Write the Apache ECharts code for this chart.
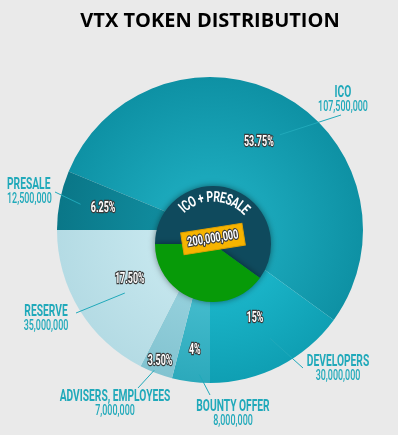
<!DOCTYPE html>
<html>
<head>
<meta charset="utf-8">
<script src="https://cdn.jsdelivr.net/npm/echarts@6/dist/echarts.min.js"></script>
<style>
html, body { margin: 0; padding: 0; background: #eaeaea; }
#main { width: 398px; height: 435px; }
</style>
</head>
<body>
<div id="main"></div>
<script>
// data
var names = ["ICO", "DEVELOPERS", "BOUNTY OFFER", "ADVISERS, EMPLOYEES", "RESERVE", "PRESALE"];
var tokens = [107500000, 30000000, 8000000, 7000000, 35000000, 12500000];
var percents = ["53.75%", "15%", "4%", "3.50%", "17.50%", "6.25%"];
var innerTitle = "ICO + PRESALE";
var innerGroup = ["ICO", "PRESALE"];

// layout / style
var sliceInner = ["#1ba8bb", "#1cb8cc", "#48bfd0", "#98d2de", "#c6e7ee", "#108b9d"];
var sliceOuter = ["#0e91a4", "#0f9fb3", "#2ca9bb", "#82c3d0", "#b4dbe4", "#0a7788"];
var pctRadius = [100, 99, 121, 141, 94, 109];
var lineStartRadius = [118, 124, 145, 151, 106, 132];
var lineStartTurn = [-7, 2, 3, -1, 5, 0];
var nameSpot = [[343, 93, "center"], [338, 362, "center"], [233, 407, "center"],
                [115, 397, "center"], [46, 312, "center"], [7, 185, "left"]];
var lineEnd = [[341, 115], [303, 368], [210, 395], [138, 388], [76, 313], [55, 192]];

var cx = 210, cy = 230, R = 153, startAngle = 157.5;
var icx = 213, icy = 244, iR = 58;
var cond = "Roboto, 'DejaVu Sans', sans-serif";
var squeeze = 0.64;
var teal = "#20a9ba";

var total = tokens.reduce(function (a, b) { return a + b; }, 0);
var groupSum = 0;
names.forEach(function (n, i) { if (innerGroup.indexOf(n) >= 0) groupSum += tokens[i]; });

function fmt(v) { return v.toLocaleString("en-US"); }

// mid angle of each slice (degrees, ccw from 3 o'clock)
var midAngle = [];
var acc = 0;
tokens.forEach(function (v) {
  midAngle.push(startAngle - 360 * (acc + v / 2) / total);
  acc += v;
});
function polar(a, r) {
  var t = a * Math.PI / 180;
  return [cx + r * Math.cos(t), cy - r * Math.sin(t)];
}

var mainData = names.map(function (n, i) {
  return {
    name: n, value: tokens[i],
    itemStyle: {
      color: new echarts.graphic.RadialGradient(cx, cy, R, [
        { offset: 0.35, color: sliceInner[i] },
        { offset: 1, color: sliceOuter[i] }
      ], true)
    }
  };
});

function condText(x, y, txt, size, weight, fill, align, extra) {
  var st = { text: txt, fill: fill, font: weight + " " + size + "px " + cond,
             align: align, verticalAlign: "middle" };
  if (extra) { st.stroke = extra; st.lineWidth = 2.5; }
  return { type: "text", x: x, y: y, scaleX: squeeze, z: 30, silent: true, style: st };
}

var graphics = [];
names.forEach(function (n, i) {
  // leader line
  var p0 = polar(midAngle[i] + lineStartTurn[i], lineStartRadius[i]);
  graphics.push({
    type: "line", silent: true, z: 20,
    shape: { x1: p0[0], y1: p0[1], x2: lineEnd[i][0], y2: lineEnd[i][1] },
    style: { stroke: teal, lineWidth: 1 }
  });
  // name + amount
  var s = nameSpot[i];
  graphics.push(condText(s[0], s[1], n, 16, "bold", teal, s[2]));
  graphics.push(condText(s[0], s[1] + 14.5, fmt(tokens[i]), 14, "500", teal, s[2]));
  // percent inside slice
  var q = polar(midAngle[i], pctRadius[i]);
  graphics.push(condText(q[0], q[1], percents[i], 14, "bold", "#fff", "center", "#3a3a3a"));
});

// title
graphics.push({
  type: "text", x: 210, y: 21, z: 30,
  style: { text: "VTX TOKEN DISTRIBUTION", fill: "#000", font: "bold 20px 'Open Sans', sans-serif",
           align: "center", verticalAlign: "middle" }
});

// arc text on inner circle
var ctx = document.createElement("canvas").getContext("2d");
var arcFont = "bold 15px " + cond;
var arcSqueeze = 0.7;
ctx.font = arcFont;
var arcR = 46, arcMid = 88;
var widths = innerTitle.split("").map(function (c) { return ctx.measureText(c).width * arcSqueeze; });
var arcLen = widths.reduce(function (a, b) { return a + b; }, 0);
var pos = -arcLen / 2;
innerTitle.split("").forEach(function (c, k) {
  var s = pos + widths[k] / 2;
  pos += widths[k];
  var a = arcMid - (s / arcR) * 180 / Math.PI;
  var t = a * Math.PI / 180;
  graphics.push({
    type: "text", z: 30, silent: true,
    x: icx + arcR * Math.cos(t), y: icy - arcR * Math.sin(t),
    rotation: (a - 90) * Math.PI / 180, scaleX: arcSqueeze,
    style: { text: c, fill: "#fff", font: arcFont, align: "center", verticalAlign: "middle" }
  });
});

// total badge
graphics.push({
  type: "group", x: 213, y: 239, rotation: 9 * Math.PI / 180, z: 30,
  children: [
    { type: "rect", z: 30, shape: { x: -31, y: -11, width: 62, height: 22 },
      style: { fill: "#f6b400", stroke: "#e0a100", lineWidth: 1 } },
    { type: "text", z: 31, x: 0, y: 0, scaleX: 0.7,
      style: { text: fmt(total), fill: "#fff", font: "bold 13px " + cond,
               stroke: "#3a3a3a", lineWidth: 2.5, align: "center", verticalAlign: "middle" } }
  ]
});

var chart = echarts.init(document.getElementById("main"));
chart.setOption({
  backgroundColor: "#eaeaea",
  animation: false,
  graphic: graphics,
  series: [
    {
      type: "pie",
      center: [cx, cy],
      radius: R,
      startAngle: startAngle,
      clockwise: true,
      silent: true,
      data: mainData,
      label: { show: false },
      labelLine: { show: false }
    },
    {
      type: "pie",
      center: [icx, icy],
      radius: iR,
      startAngle: 180,
      silent: true,
      label: { show: false },
      labelLine: { show: false },
      itemStyle: { shadowBlur: 6, shadowColor: "rgba(0,0,0,0.45)" },
      data: [
        { name: innerTitle, value: groupSum, itemStyle: { color: "#0f4a5d" } },
        { name: "OTHER", value: total - groupSum, itemStyle: { color: "#079a08" } }
      ]
    }
  ]
});
</script>
</body>
</html>
